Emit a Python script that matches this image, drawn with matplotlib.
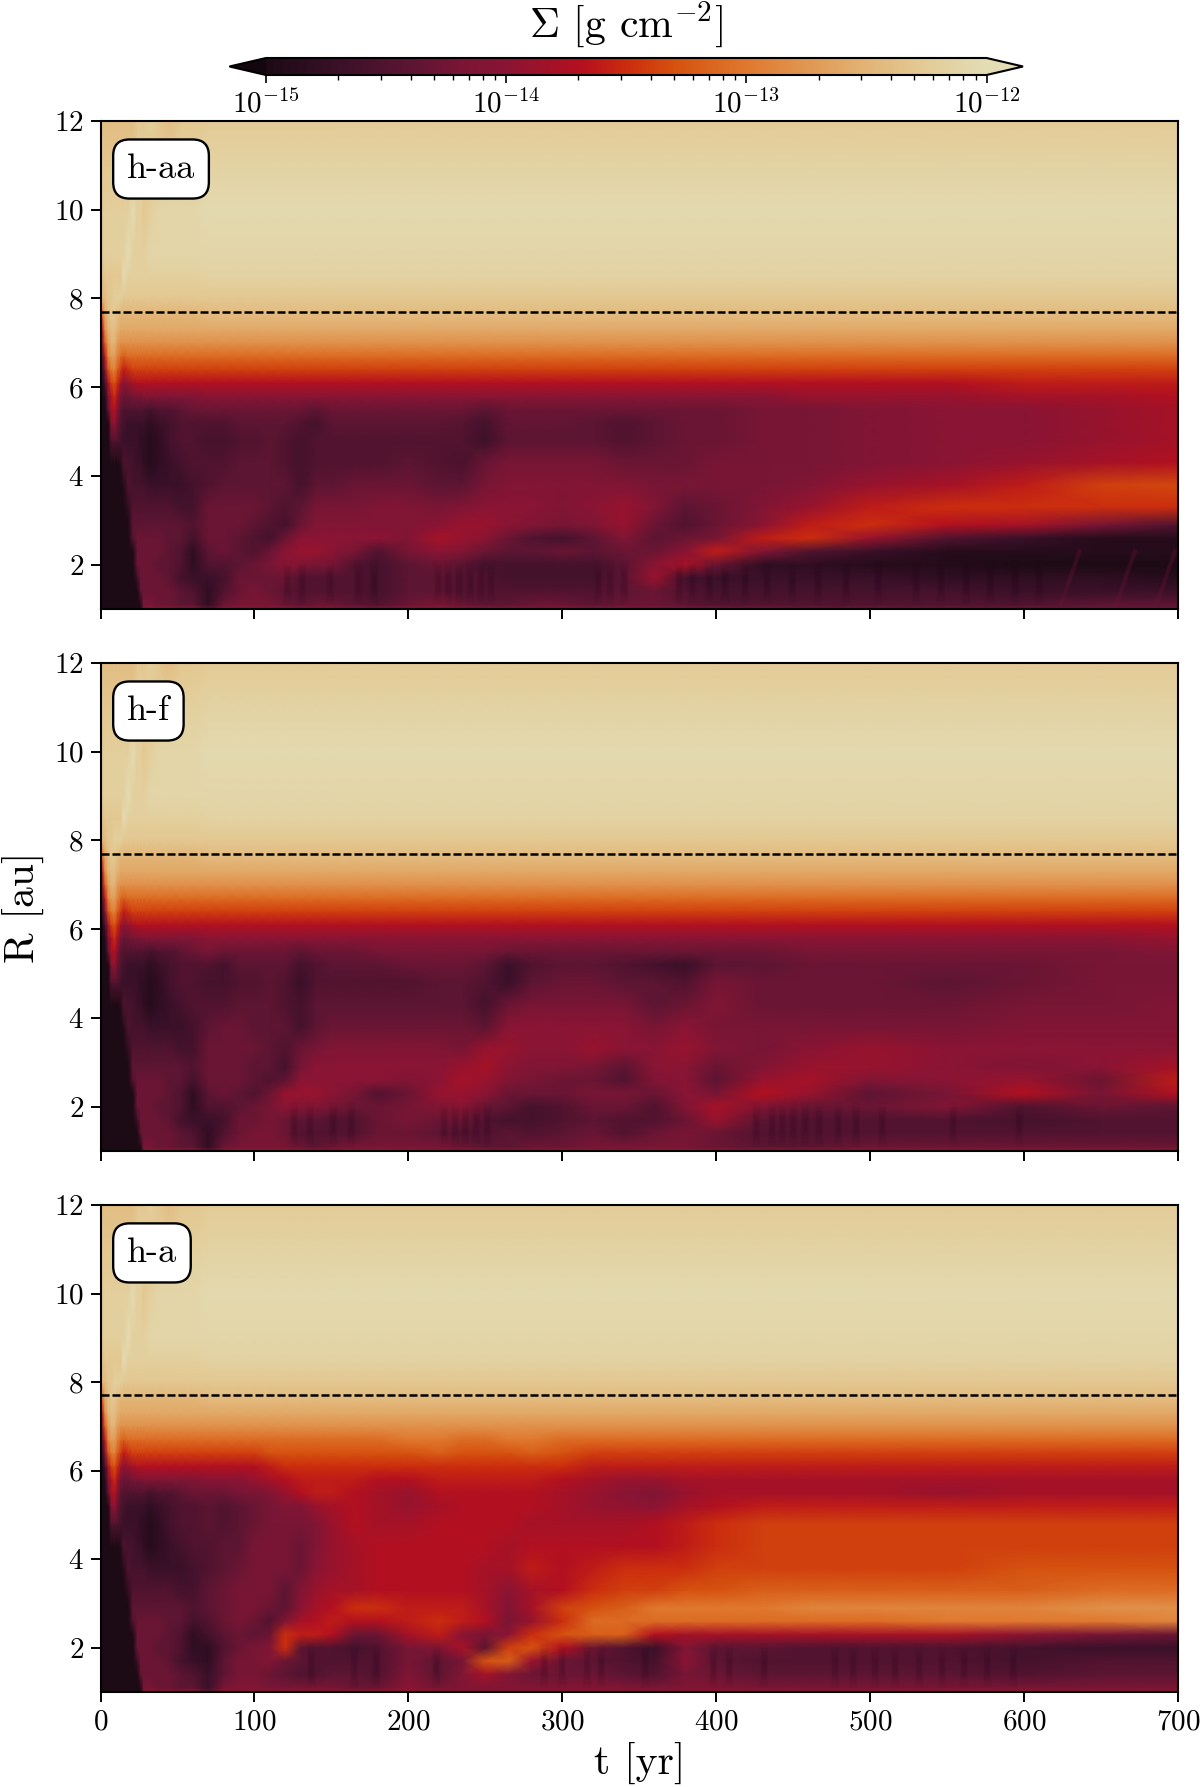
import numpy as np
import matplotlib
matplotlib.use("Agg")
from matplotlib import pyplot as plt
from matplotlib.colors import LinearSegmentedColormap, LogNorm

plt.rcParams['font.family'] = ['cmr10', 'DejaVu Sans']
plt.rcParams['mathtext.fontset'] = 'cm'
plt.rcParams['mathtext.default'] = 'rm'
plt.rcParams['axes.unicode_minus'] = False
plt.rcParams['axes.formatter.use_mathtext'] = True

R_rows = [1.0, 1.1, 1.4, 1.7, 2.0, 2.3, 2.6, 2.9, 3.3, 3.8, 4.3, 4.8, 5.2, 5.5, 5.8, 6.1, 6.4, 6.7,
          7.0, 7.3, 7.6, 8.0, 8.5, 9.0, 10.0, 11.0, 12.0]
t_early = [0, 1, 3, 5, 7, 9, 11, 13, 15, 18, 21, 24, 26, 28, 32, 38, 45, 52, 60]
t_late = [70, 80, 90, 100, 110, 120, 130, 140, 150, 165, 180, 200, 220, 235, 250, 265, 280, 300, 320, 340,
          360, 380, 400, 430, 460, 500, 550, 600, 650, 700]

# first 60 yr look the same in all three runs
early = [
    [0, 0, 0, 0, 0, 0, 0, 0, 0, 0, 0, 0, 0, 9, 10, 10, 10, 10, 10],
    [0, 0, 0, 0, 0, 0, 0, 0, 0, 0, 0, 0, 0, 8, 8, 7, 7, 6, 6],
    [0, 0, 0, 0, 0, 0, 0, 0, 0, 0, 0, 0, 6, 7, 7, 7, 7, 6, 5],
    [0, 0, 0, 0, 0, 0, 0, 0, 0, 0, 0, 3, 7, 7, 7, 7, 6, 4, 3],
    [0, 0, 0, 0, 0, 0, 0, 0, 0, 0, 0, 7, 7, 7, 7, 6, 6, 5, 2],
    [0, 0, 0, 0, 0, 0, 0, 0, 0, 0, 0, 7, 7, 7, 7, 7, 6, 5, 2],
    [0, 0, 0, 0, 0, 0, 0, 0, 0, 0, 5, 7, 7, 7, 7, 7, 6, 6, 4],
    [0, 0, 0, 0, 0, 0, 0, 0, 0, 0, 6, 6, 6, 6, 6, 6, 6, 6, 5],
    [0, 0, 0, 0, 0, 0, 0, 0, 0, 2, 5, 5, 5, 5, 5, 5, 5, 4, 4],
    [0, 0, 0, 0, 0, 0, 0, 0, 1, 5, 4, 4, 4, 4, 3, 3, 3, 3, 4],
    [0, 0, 0, 0, 0, 0, 0, 1, 5, 4, 4, 3, 3, 2, 1, 2, 3, 4, 5],
    [0, 0, 0, 0, 5, 5, 5, 4, 3, 3, 3, 3, 2, 2, 1, 2, 4, 5, 5],
    [0, 0, 0, 0, 9, 11, 7, 5, 4, 3, 3, 3, 3, 3, 2, 3, 4, 5, 5],
    [0, 0, 0, 6, 12, 13, 9, 6, 5, 5, 5, 5, 5, 5, 4, 5, 5, 6, 7],
    [0, 0, 1, 8, 13, 15, 12, 8, 7, 7, 8, 8, 8, 9, 9, 9, 9, 9, 9],
    [0, 0, 4, 12, 16, 17, 15, 12, 10, 11, 12, 13, 13, 13, 13, 13, 13, 13, 13],
    [0, 2, 9, 17, 20, 21, 18, 16, 14, 15, 16, 16, 16, 16, 16, 16, 16, 16, 16],
    [0, 4, 14, 21, 23, 23, 21, 19, 18, 19, 19, 19, 19, 19, 19, 19, 19, 19, 19],
    [1, 8, 18, 23, 25, 25, 23, 22, 22, 22, 22, 22, 22, 22, 22, 22, 22, 22, 22],
    [3, 13, 22, 25, 26, 26, 25, 24, 24, 24, 24, 24, 24, 24, 24, 24, 24, 24, 24],
    [6, 18, 24, 26, 27, 27, 26, 25, 25, 25, 25, 25, 25, 25, 25, 25, 25, 25, 25],
    [22, 25, 26, 27, 27, 28, 28, 28, 27, 27, 27, 27, 27, 27, 27, 27, 27, 27, 27],
    [25, 26, 27, 27, 27, 27, 27, 27, 30, 28, 28, 28, 28, 28, 28, 28, 28, 28, 28],
    [26, 27, 28, 28, 28, 28, 28, 28, 28, 30, 28, 28, 28, 28, 29, 29, 29, 29, 29],
    [26, 27, 28, 28, 28, 28, 28, 28, 28, 28, 30, 28, 28, 27, 28, 29, 29, 29, 29],
    [26, 27, 27, 27, 27, 27, 27, 27, 27, 27, 27, 28, 29, 28, 27, 27, 28, 28, 28],
    [26, 26, 26, 26, 26, 26, 26, 26, 26, 26, 26, 27, 27, 27, 28, 27, 26, 27, 27],
]

# R >= 7 after 70 yr, same in all runs
outer_profile = [22, 24, 25.5, 27, 28.5, 29, 29.5, 28.5, 27.5]

haa = [
    [6, 10, 10, 10, 10, 10, 10, 10, 10, 9, 9, 10, 10, 9, 9, 9, 9, 10, 9, 9, 9, 8, 8, 8, 7, 7, 7, 7, 7, 7],
    [2, 7, 8, 8, 8, 7, 6, 7, 7, 6, 5, 7, 8, 7, 6, 6, 7, 7, 6, 7, 7, 6, 5, 5, 5, 5, 5, 5, 6, 6],
    [2, 5, 7, 8, 7, 6, 5, 5, 5, 5, 4, 6, 6, 5, 5, 5, 5, 5, 5, 6, 7, 5, 4, 4, 4, 4, 4, 3, 3, 3],
    [3, 4, 7, 7, 7, 7, 5, 5, 5, 5, 4, 6, 6, 5, 5, 4, 4, 4, 4, 6, 11, 4, 3, 3, 3, 3, 2, 2, 2, 1],
    [5, 5, 6, 7, 8, 10, 9, 8, 8, 5, 4, 6, 7, 6, 4, 4, 4, 4, 4, 6, 10, 12, 7, 2, 2, 1, 1, 0, 0, 0],
    [6, 7, 6, 5, 7, 10, 11, 11, 10, 8, 5, 8, 10, 9, 7, 6, 6, 7, 6, 7, 7, 10, 14, 9, 5, 3, 1, 1, 1, 1],
    [7, 7, 6, 5, 4, 7, 10, 10, 10, 10, 10, 9, 12, 11, 10, 7, 5, 4, 6, 9, 6, 7, 8, 14, 15, 11, 5, 3, 1, 1],
    [7, 7, 7, 6, 5, 4, 7, 9, 9, 9, 9, 9, 10, 11, 11, 10, 9, 8, 9, 11, 7, 5, 7, 10, 14, 15, 13, 12, 8, 5],
    [7, 7, 7, 7, 6, 5, 6, 8, 8, 8, 9, 9, 8, 9, 10, 10, 10, 9, 10, 11, 9, 6, 7, 9, 11, 14, 15, 15, 15, 15],
    [5, 6, 6, 6, 6, 6, 4, 6, 6, 7, 7, 7, 6, 6, 8, 9, 9, 9, 9, 9, 8, 8, 8, 8, 9, 11, 12, 14, 16, 16.5],
    [5, 5, 6, 6, 6, 5, 4, 5, 5, 5, 5, 6, 5, 4.5, 7, 8, 8, 8, 8, 7, 7, 7, 8, 8, 8, 9, 10, 11, 12, 13],
    [4, 4, 5, 5, 6, 5, 4, 5, 5, 5, 5, 5, 5, 5, 3.5, 6, 6, 6, 6, 5, 6, 7, 7, 8, 8, 9, 10, 10, 11, 12],
    [5, 5, 6, 6, 6, 6, 5, 4, 6, 6, 6, 6, 6, 5.5, 4, 6.5, 6.5, 6.5, 6, 5, 6, 7, 7, 8, 8, 9, 10, 10, 11, 12],
    [7, 7, 7, 7, 7, 7, 7, 6, 7, 7, 7, 7, 7, 7, 6, 7, 7, 7, 7, 7, 7, 7, 7, 8, 8, 9, 10, 10, 11, 12],
    [10, 10, 10, 10, 10, 10, 10, 10, 10, 10, 10, 10, 10, 10, 10, 10, 10, 10, 10, 10, 10, 10, 10, 10, 11, 11, 11, 12, 12, 13],
    [13, 13, 13, 13, 13, 13, 13, 13, 13, 13, 13, 13, 13, 13, 13, 13, 13, 13, 13, 13, 13, 13, 13, 13, 13, 13, 13, 14, 14, 14],
    [16, 16, 16, 16, 16, 16, 16, 16, 16, 16, 16, 16, 16, 16, 16, 16, 16, 16, 16, 16, 16, 16, 16, 16, 16, 16, 16, 16, 16, 16],
    [19, 19, 19, 19, 19, 19, 19, 19, 19, 19, 19, 19, 19, 19, 19, 19, 19, 19, 19, 19, 19, 19, 19, 19, 19, 19, 19, 19, 19, 19],
]

hf = [
    [6, 10, 10, 10, 10, 10, 10, 10, 10, 10, 10, 10, 10, 10, 10, 10, 10, 10, 10, 10, 10, 10, 10, 10, 10, 10, 10, 10, 10, 10],
    [2, 7, 8, 8, 8, 8, 7, 6, 7, 8, 8, 8, 8, 7, 6, 6, 7, 7, 8, 8, 8, 8, 7, 6, 6, 7, 7, 7, 7, 7],
    [2, 5, 7, 8, 8, 7, 5, 5, 5, 5, 7, 7, 6, 5, 5, 6, 5, 6, 7, 5, 7, 8, 7, 5, 5, 5, 5, 5, 5, 5],
    [3, 4, 7, 7, 8, 7, 6, 6, 5, 5, 7, 8, 7, 7, 5, 4, 4, 5, 6, 5, 5, 7, 11, 6, 5, 5, 5, 4, 5, 5],
    [5, 5, 6, 7, 8, 10, 9, 9, 8, 7, 7, 8, 9, 10, 7, 6, 4, 5, 7, 7, 5, 9, 12, 9, 7, 7, 9, 5, 7, 6],
    [6, 7, 6, 5, 7, 11, 11, 11, 10, 8, 5, 7, 11, 11, 10, 7, 7, 7, 8, 8, 7, 10, 8, 13, 11, 6, 8, 13, 8, 13],
    [7, 7, 7, 6, 5, 6, 10, 10, 10, 10, 10, 9, 10, 12, 11, 9, 8, 7, 7, 5, 9, 10, 6, 11, 12, 9, 10, 11, 7, 14],
    [7, 7, 7, 6, 6, 4, 8, 10, 10, 10, 10, 10, 10, 11, 12, 10, 9, 9, 8, 6, 10, 10, 7, 9, 11, 11, 10, 9, 10, 12],
    [7, 7, 7, 7, 6, 5, 7, 8, 9, 9, 9, 9, 9, 8, 11, 11, 10, 10, 11, 10, 10, 11, 9, 8, 10, 11, 10, 10, 10, 10],
    [6, 7, 7, 6, 6, 6, 4, 6, 7, 7, 7, 7, 7, 7, 6, 10, 10, 10, 10, 10, 8, 10, 8, 8, 8, 8, 8, 9, 9, 9],
    [5, 5, 6, 6, 6, 5, 4, 6, 6, 6, 6, 6, 6, 6, 4, 7, 8, 8, 8, 8, 6, 7, 9, 7, 7, 7, 7, 8, 8, 9],
    [4, 4, 5, 5, 6, 5, 3, 5, 5, 5, 5, 5, 6, 6, 5, 3, 6, 7, 7, 6, 6, 5, 8, 7, 7, 7, 6, 7, 8, 8],
    [5, 4, 6, 6, 6, 6, 4, 5, 6, 6, 6, 7, 7, 7, 6, 3, 5, 6, 6, 5, 4, 3, 6, 6, 7, 7, 7, 7, 8, 8],
    [8, 7, 7, 7, 7, 7, 6, 7, 7, 7, 8, 8, 8, 8, 8, 7, 7, 7, 7, 7, 7, 7, 7, 7, 8, 8, 8, 8, 8, 9],
    [10, 10, 10, 10, 10, 10, 10, 10, 10, 10, 10, 10, 10, 10, 10, 10, 10, 10, 10, 10, 10, 10, 10, 10, 10, 10, 10, 10, 10, 11],
    [13, 13, 13, 13, 13, 13, 13, 13, 13, 13, 13, 13, 13, 13, 13, 13, 13, 13, 13, 13, 13, 13, 13, 13, 13, 13, 13, 13, 13, 13],
    [16, 16, 16, 16, 16, 16, 16, 16, 16, 16, 16, 16, 16, 16, 16, 16, 16, 16, 16, 16, 16, 16, 16, 16, 16, 16, 16, 16, 16, 16],
    [19, 19, 19, 19, 19, 19, 19, 19, 19, 19, 19, 19, 19, 19, 19, 19, 19, 19, 19, 19, 19, 19, 19, 19, 19, 19, 19, 19, 19, 19],
]

ha = [
    [6, 10, 10, 10, 10, 10, 10, 10, 10, 10, 11, 11, 10, 10, 10, 10, 10, 10, 10, 10, 10, 10, 10, 10, 10, 10, 10, 10, 10, 10],
    [3, 8, 9, 9, 8, 8, 8, 8, 8, 7, 7, 10, 8, 9, 9, 9, 9, 9, 9, 9, 8, 9, 9, 8, 8, 8, 8, 8, 8, 8],
    [3, 6, 8, 8, 7, 6, 5, 5, 6, 6, 5, 9, 6, 9, 12, 9, 7, 7, 7, 6, 5, 8, 7, 6, 6, 6, 6, 5, 6, 6],
    [2, 6, 8, 8, 9, 7, 6, 5, 5, 5, 5, 8, 6, 8, 17, 18, 11, 7, 6, 5, 4, 10, 6, 5, 5, 5, 5, 4, 5, 5],
    [2, 5, 7, 8, 9, 15, 6, 5, 5, 4, 5, 8, 9, 12, 6, 16, 17, 13, 7, 5, 3, 9, 6, 6, 5, 5, 5, 4, 3, 3],
    [4, 6, 7, 6, 7, 15, 14, 14, 13, 7, 7, 12, 14, 10, 8, 10, 15, 17, 18, 18, 13, 12, 12, 12, 12, 12, 12, 10, 8, 7],
    [5, 7, 8, 7, 5, 9, 12, 13, 14, 13, 13, 14, 15, 14, 13, 8, 11, 15, 19, 19, 19, 19, 19, 19, 19, 19, 20, 20, 20, 21],
    [6, 7, 8, 8, 7, 6, 10, 12, 13, 15, 15, 14, 14, 14, 12, 9, 12, 16, 17, 18, 20, 20, 20, 20, 21, 21, 21, 21, 22, 22],
    [6, 7, 8, 8, 8, 6, 9, 11, 12, 12, 13, 13, 13, 13, 12, 10, 12, 13, 15, 16, 16, 17, 17, 18, 18, 18, 18, 18, 19, 19],
    [5, 6, 7, 8, 8, 8, 7, 10, 11, 12, 13, 13, 13, 13, 12, 12, 14, 13, 14, 15, 15, 15, 16, 16, 16, 16, 16, 17, 17, 17],
    [5, 6, 6, 8, 8, 8, 7, 9, 11, 12, 13, 13, 13, 13, 13, 12, 13, 13, 13, 13, 13, 14, 15, 16, 16, 16, 16, 16, 16, 16],
    [6, 5, 6, 7, 8, 8, 8, 9, 11, 13, 12, 12, 13, 13, 13, 13, 12, 12, 12, 12, 13, 14, 15, 16, 16, 16, 16, 16, 16, 16],
    [6, 5, 6, 7, 8, 9, 9, 11, 12, 13, 12, 11, 12, 13, 13, 13, 13, 12, 11, 10.5, 10, 12, 13, 14, 14, 14, 14, 14, 14, 14],
    [7, 7, 8, 8, 9, 11, 13, 14, 14, 13, 12, 11, 13, 13, 13, 13, 13, 12, 11, 10, 9, 11, 12, 12, 12, 12, 11, 12, 12, 12],
    [10, 10, 10, 11, 12, 13, 14, 14, 14, 14, 13, 13, 14, 14, 14, 14, 14, 13, 12, 11, 11, 12, 12, 12, 12, 12, 12, 12, 12, 12],
    [13, 13, 13, 13, 14, 15, 15, 15, 15, 15, 15, 15, 15, 15, 15, 15, 15, 15, 14, 14, 14, 14, 14, 14, 14, 14, 14, 14, 14, 14],
    [16, 16, 16, 16, 17, 17, 17, 17, 17, 17, 17, 17, 18, 17, 17, 17, 18, 17, 16, 16, 16, 16, 16, 16, 16, 16, 16, 16, 16, 16],
    [19, 19, 19, 19, 19, 19, 19, 19, 19, 19, 19, 20, 20, 19, 19, 20, 20, 19, 19, 19, 19, 19, 19, 19, 19, 19, 19, 19, 19, 19],
]

# thin dark streaks near the inner edge, t in yr
streaks_haa = [121, 131, 149, 167, 178, 219, 226, 233, 240, 247, 254, 323, 331, 340, 376, 384, 395, 406, 419, 433,
               449, 466, 484, 505, 530, 546, 562, 578, 594, 610]
streaks_hf = [126, 136, 151, 163, 223, 230, 237, 244, 251, 426, 436, 443, 450, 458, 467, 479, 491, 508, 554, 597]
streaks_ha = [137, 165, 179, 218, 288, 300, 316, 325, 354, 398, 408, 431, 477, 489, 503, 516, 532, 547, 561, 576, 593]
streak_lists = [streaks_haa, streaks_hf, streaks_ha]

# lighter slanted filaments at late times in h-aa
filament_bottom_t = [624, 660, 686]
filament_top_t = [636, 672, 698]

run_names = ['h-aa', 'h-f', 'h-a']
run_levels = [haa, hf, ha]
R_marked = 7.7
x_ticks = [0, 100, 200, 300, 400, 500, 600, 700]
y_ticks = [2, 4, 6, 8, 10, 12]

cb_colors = ['#1c0a14', '#3a1029', '#5c1532', '#7a1535', '#8a1434', '#b5101f', '#cb2c0e', '#d5530f', '#e0782e',
             '#e09a55', '#e2b678', '#e3cc98', '#e3dcb4']
cb_pos = [0.0, 0.1, 0.2, 0.27, 0.333, 0.44, 0.5, 0.57, 0.667, 0.76, 0.84, 0.92, 1.0]
cmap = LinearSegmentedColormap.from_list('sigma', list(zip(cb_pos, cb_colors)), N=512)
cmap.set_under('#14060e')
cmap.set_over('#e3dcb4')
norm = LogNorm(vmin=1e-15, vmax=1e-12)

W, H = 1200, 1787
fig = plt.figure(figsize=(W / 100, H / 100), dpi=100)


def px_axes(x0, y0, x1, y1):
    return fig.add_axes([x0 / W, 1 - y1 / H, (x1 - x0) / W, (y1 - y0) / H])


panel_y = [(121, 609), (663, 1151), (1205, 1692)]
t_all = np.array(t_early + t_late)
R_all = np.array(R_rows)

for i, (y0, y1) in enumerate(panel_y):
    ax = px_axes(100.5, y0, 1178, y1)
    late = np.vstack([np.array(run_levels[i], dtype=float),
                      np.tile(outer_profile, (len(t_late), 1)).T])
    levels = np.hstack([np.array(early, dtype=float), late])
    sigma = 10.0 ** (-15 + levels / 10)
    mesh = ax.pcolormesh(t_all, R_all, sigma, shading='gouraud', cmap=cmap, norm=norm)

    # soft ends: nested shorter strokes, low alpha so they do not read as ticks
    for lo, hi, lw in [(1.1, 2.1, 6), (1.18, 2.0, 5), (1.26, 1.92, 4), (1.34, 1.84, 3), (1.42, 1.76, 2)]:
        ax.vlines(streak_lists[i], lo, hi, color='#1c0a14', lw=lw, alpha=0.035)
    if i == 0:
        for tb, tt in zip(filament_bottom_t, filament_top_t):
            ax.plot([tb, tt], [1.1, 2.3], color='#6a1535', lw=3.5, alpha=0.2)
            ax.plot([tb, tt], [1.1, 2.3], color='#6a1535', lw=2, alpha=0.2)

    ax.axhline(R_marked, color='k', ls='--', lw=1.8, dashes=(3.2, 1.2))
    ax.set_xlim(0, 700)
    ax.set_ylim(1, 12)
    ax.set_xticks(x_ticks)
    ax.set_yticks(y_ticks)
    ax.tick_params(length=7, width=1.4, labelsize=21, pad=5)
    for s in ax.spines.values():
        s.set_linewidth(1.5)
    if i < 2:
        ax.set_xticklabels([])
    ax.text(0.0245, 0.9016, run_names[i], transform=ax.transAxes, fontsize=26, ha='left', va='center',
            bbox=dict(boxstyle='round,pad=0.38,rounding_size=0.45', fc='white', ec='k', lw=1.7))
    if i == 1:
        ax.set_ylabel('R [au]', fontsize=30, labelpad=7)
    if i == 2:
        ax.set_xlabel('t [yr]', fontsize=30, labelpad=5)

cax = px_axes(229.5, 58, 1023, 75)
cb = fig.colorbar(mesh, cax=cax, orientation='horizontal', extend='both', extendfrac=0.0506)
cb.ax.tick_params(which='major', length=6, width=1.2, labelsize=21, pad=4)
cb.ax.tick_params(which='minor', length=3.5, width=1)
cb.outline.set_linewidth(1.5)
fig.text(626 / W, 1 - 25 / H, r'$\Sigma$ [g cm$^{-2}$]', fontsize=30, ha='center', va='center')

fig.savefig('out.png', dpi=100)
